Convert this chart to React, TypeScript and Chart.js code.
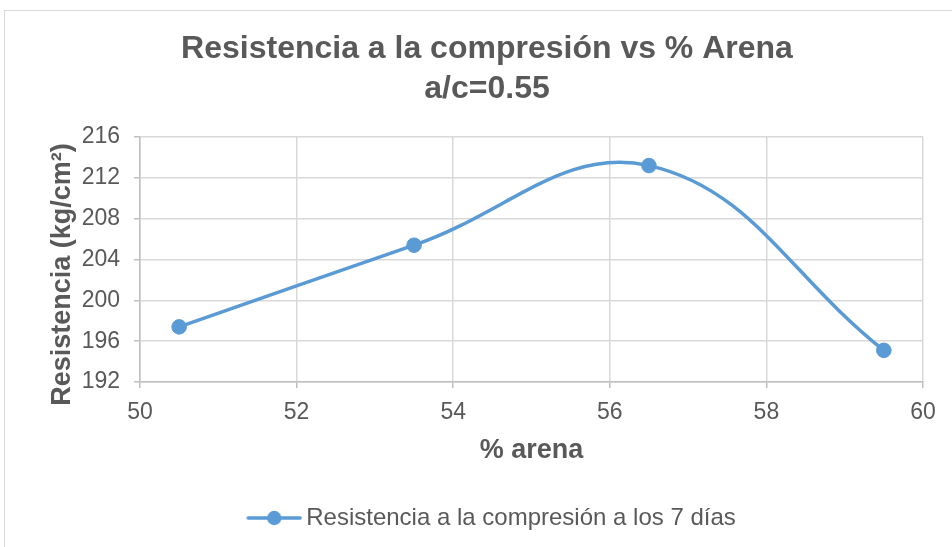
import React, { useEffect, useRef } from "react";
import { Chart, registerables } from "chart.js";

Chart.register(...registerables);

// ---- data ----
const arenaPct = [50.5, 53.5, 56.5, 59.5];
const resistencia = [197.4, 205.4, 213.2, 195.1];
const titleLines = ["Resistencia a la compresión vs % Arena", "a/c=0.55"];
const seriesLabel = "Resistencia a la compresión a los 7 días";
const xAxisTitle = "% arena";
const yAxisTitle = "Resistencia (kg/cm²)";
const yTicksRange = [192, 216, 4];
const xTicksRange = [50, 60, 2];

const BLUE = "#5B9BD5";
const TEXT = "#595959";
const GRID = "#d9d9d9";
const AXIS = "#bfbfbf";
const FONT = "'Liberation Sans', Arial, sans-serif";

const W = 964;
const H = 540;

function legendImage(): HTMLCanvasElement {
  const c = document.createElement("canvas");
  c.width = 72;
  c.height = 18;
  const g = c.getContext("2d")!;
  g.strokeStyle = BLUE;
  g.lineWidth = 3.5;
  g.lineCap = "round";
  g.beginPath();
  g.moveTo(18, 9);
  g.lineTo(70, 9);
  g.stroke();
  g.fillStyle = BLUE;
  g.beginPath();
  g.arc(44, 9, 7.2, 0, Math.PI * 2);
  g.fill();
  return c;
}

export default function App() {
  const ref = useRef<HTMLCanvasElement | null>(null);

  useEffect(() => {
    if (!ref.current) return;
    const img = legendImage();
    const chart = new Chart(ref.current, {
      type: "scatter",
      data: {
        datasets: [
          {
            label: seriesLabel,
            data: arenaPct.map((x, i) => ({ x, y: resistencia[i] })),
            showLine: true,
            borderColor: BLUE,
            backgroundColor: BLUE,
            borderWidth: 3.5,
            tension: 0.4,
            pointRadius: 7.3,
            pointBorderWidth: 1,
            pointStyle: "circle",
            yAxisID: "y",
          },
        ],
      },
      options: {
        responsive: false,
        animation: false,
        devicePixelRatio: 1,
        layout: { padding: { left: 0, right: 0, top: 0, bottom: 11 } },
        plugins: {
          tooltip: { enabled: false },
          title: {
            display: true,
            text: titleLines,
            color: TEXT,
            font: { family: FONT, size: 32, weight: "bold", lineHeight: 40 / 32 },
            padding: { top: 18, bottom: 28 },
          },
          legend: {
            position: "bottom",
            labels: {
              color: TEXT,
              font: { family: FONT, size: 24 },
              usePointStyle: true,
              pointStyleWidth: 56,
              boxHeight: 18,
              padding: 10,
              generateLabels: () => [
                {
                  text: seriesLabel,
                  pointStyle: img,
                  fillStyle: BLUE,
                  strokeStyle: BLUE,
                  lineWidth: 0,
                  fontColor: TEXT,
                  datasetIndex: 0,
                  hidden: false,
                } as any,
              ],
            },
          },
        },
        scales: {
          x: {
            type: "linear",
            min: xTicksRange[0],
            max: xTicksRange[1],
            ticks: {
              stepSize: xTicksRange[2],
              color: TEXT,
              font: { family: FONT, size: 23 },
              padding: 11,
              maxRotation: 0,
            },
            grid: { color: GRID, lineWidth: 1.5, tickLength: 6, tickColor: AXIS },
            border: { color: AXIS, width: 1.5 },
            title: {
              display: true,
              text: xAxisTitle,
              color: TEXT,
              font: { family: FONT, size: 27, weight: "bold" },
              padding: { top: 0, bottom: 29 },
            },
            afterFit: (s: any) => {
              s.height = 114;
            },
          },
          y: {
            type: "linear",
            position: "left",
            min: yTicksRange[0],
            max: yTicksRange[1],
            ticks: {
              stepSize: yTicksRange[2],
              color: TEXT,
              font: { family: FONT, size: 23 },
              padding: 14,
            },
            grid: { color: GRID, lineWidth: 1.5, tickLength: 6, tickColor: AXIS },
            border: { color: AXIS, width: 1.5 },
            title: {
              display: true,
              text: yAxisTitle + "\u00A0\u00A0\u00A0\u00A0",
              color: TEXT,
              font: { family: FONT, size: 27, weight: "bold" },
              padding: { top: 41, bottom: 0 },
            },
            afterFit: (s: any) => {
              s.width = 135;
            },
          },
          yRight: {
            type: "linear",
            position: "right",
            display: true,
            min: yTicksRange[0],
            max: yTicksRange[1],
            ticks: { display: false },
            grid: { display: false, drawTicks: false },
            border: { display: false },
            afterFit: (s: any) => {
              s.width = 46;
            },
          },
        },
      },
    });
    return () => chart.destroy();
  }, []);

  return (
    <div
      style={{
        position: "fixed",
        left: 0,
        top: 0,
        width: 952,
        height: 547,
        overflow: "hidden",
        background: "#fff",
      }}
    >
      <div
        style={{
          position: "absolute",
          left: 4,
          top: 10,
          width: 1000,
          height: 600,
          border: "1px solid #d9d9d9",
        }}
      />
      <canvas
        ref={ref}
        width={W}
        height={H}
        style={{ position: "absolute", left: 5, top: 11, width: W, height: H }}
      />
    </div>
  );
}
